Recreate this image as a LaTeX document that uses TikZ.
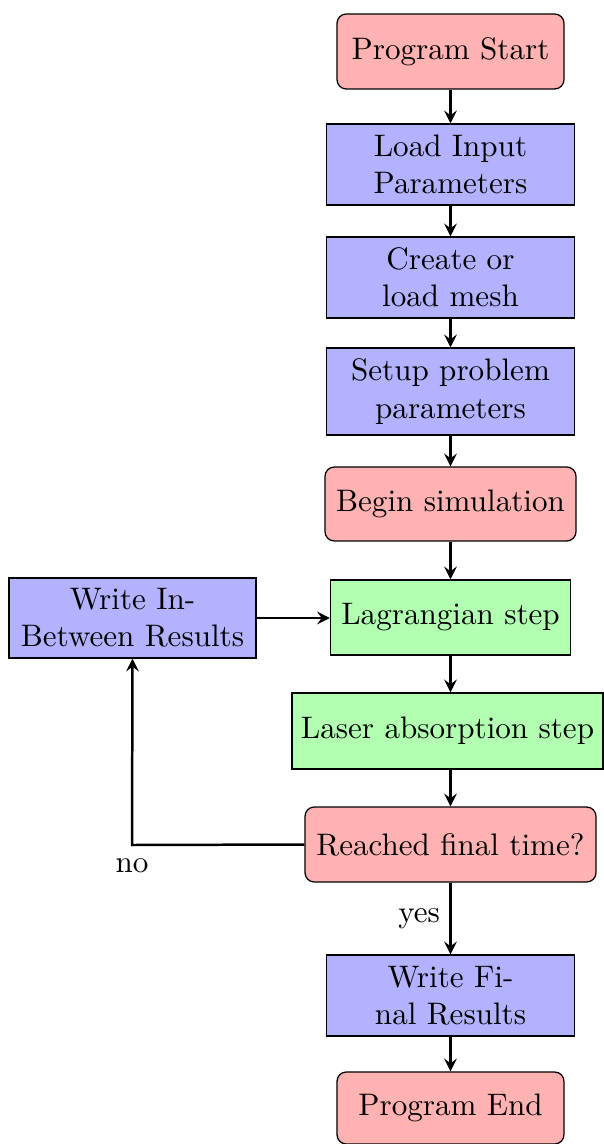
\documentclass[tikz,border=0pt]{standalone}
\usetikzlibrary{arrows.meta}
\newcommand{\pxu}{0.3215pt}
\begin{document}
\begin{tikzpicture}[x=0.3215pt,y=-0.3215pt,
  base/.style={draw, align=center, inner sep=0pt, font=\normalsize},
  startstop/.style={base, rounded corners=3pt, fill=red!30},
  process/.style={base, fill=blue!30},
  stepbox/.style={base, fill=green!30},
  conn/.style={thick, ->, >=stealth}]
\useasboundingbox (0,0) rectangle (603,1144);
\node[startstop, minimum width=227*\pxu, minimum height=75*\pxu] (start) at (450.5,51.5) {Program Start};
\node[process, minimum width=248*\pxu, minimum height=81*\pxu] (load) at (450.5,164.5) {Load Input\\Parameters};
\node[process, minimum width=248*\pxu, minimum height=81*\pxu] (mesh) at (450.5,277.5) {Create or\\load mesh};
\node[process, minimum width=248*\pxu, minimum height=87*\pxu] (setup) at (450.5,391.5) {Setup problem\\parameters};
\node[startstop, minimum width=251*\pxu, minimum height=74*\pxu] (begin) at (450.5,504) {Begin simulation};
\node[stepbox, minimum width=240*\pxu, minimum height=75*\pxu] (lag) at (450.5,617.5) {Lagrangian step};
\node[stepbox, minimum width=311*\pxu, minimum height=76*\pxu] (laser) at (447.5,731) {Laser absorption step};
\node[startstop, minimum width=291*\pxu, minimum height=75*\pxu] (reached) at (450.5,844.5) {Reached final time?};
\node[process, minimum width=248*\pxu, minimum height=81*\pxu] (final) at (450.5,995.5) {Write Fi-\\nal Results};
\node[startstop, minimum width=227*\pxu, minimum height=72*\pxu] (end) at (450.5,1108) {Program End};
\node[process, minimum width=247*\pxu, minimum height=80*\pxu] (between) at (132.5,618) {Write In-\\Between Results};
\coordinate (corner) at (132,845);
\draw[conn] (start.south) -- (start.south |- load.north);
\draw[conn] (load.south) -- (load.south |- mesh.north);
\draw[conn] (mesh.south) -- (mesh.south |- setup.north);
\draw[conn] (setup.south) -- (setup.south |- begin.north);
\draw[conn] (begin.south) -- (begin.south |- lag.north);
\draw[conn] (lag.south) -- (lag.south |- laser.north);
\draw[conn] (lag.south |- laser.south) -- (lag.south |- reached.north);
\draw[conn] (reached.south) -- node[left, inner sep=3pt] {yes} (reached.south |- final.north);
\draw[conn] (final.south) -- (final.south |- end.north);
\draw[conn] (reached.west) -- (corner) node[below, inner sep=4pt] {no} -- (between.south);
\draw[conn] (between.east) -- (between.east -| lag.west);
\end{tikzpicture}
\end{document}
